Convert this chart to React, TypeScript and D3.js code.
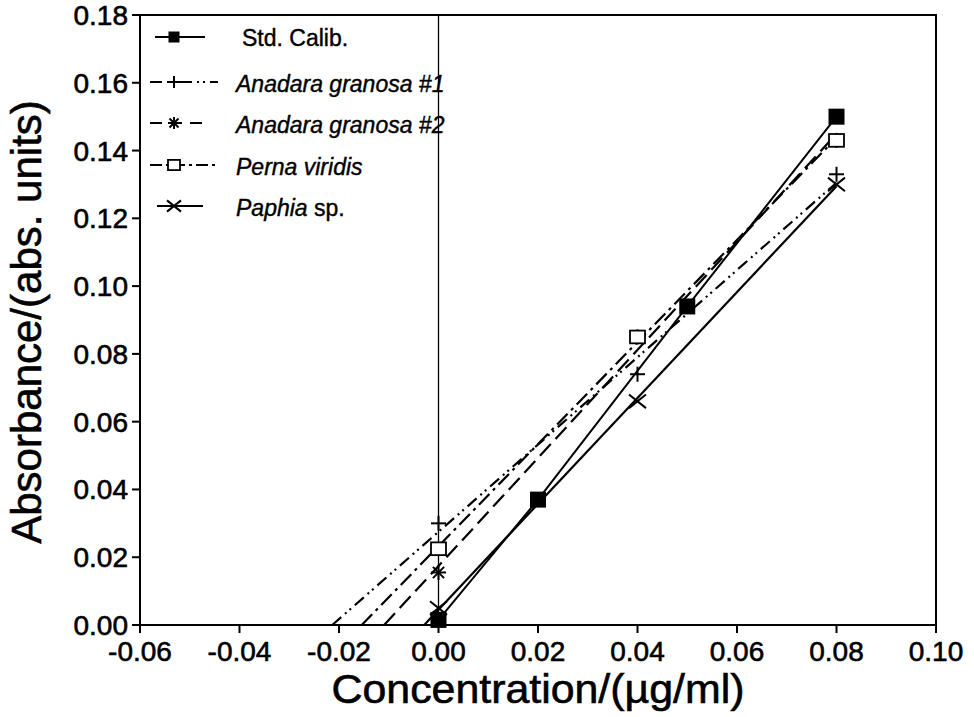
import React from "react";
import * as d3 from "d3";

// ---- data ----
const xTicks = [-0.06, -0.04, -0.02, 0.0, 0.02, 0.04, 0.06, 0.08, 0.1];
const yTicks = [0, 0.02, 0.04, 0.06, 0.08, 0.1, 0.12, 0.14, 0.16, 0.18];

const stdX = [0, 0.02, 0.05, 0.08];
const stdY = [0.0015, 0.037, 0.094, 0.15];

const sampleX = [0, 0.04, 0.08];
const anadara1Y = [0.03, 0.074, 0.133];
const anadara2Y = [0.0155, 0.085, 0.143];
const pernaY = [0.0225, 0.085, 0.143];
const paphiaY = [0.005, 0.066, 0.13];

const legendLabels = ["Std. Calib.", "Anadara granosa #1", "Anadara granosa #2", "Perna viridis", "Paphia"];

const W = 974;
const H = 717;
const FONT = "'Liberation Sans', Arial, Helvetica, sans-serif";

const x = d3.scaleLinear().domain([-0.06, 0.1]).range([140, 936]);
const y = d3.scaleLinear().domain([0, 0.18]).range([625, 15]);

function fit(xs: number[], ys: number[]) {
  const mx = d3.mean(xs)!;
  const my = d3.mean(ys)!;
  let sxy = 0, sxx = 0;
  xs.forEach((v, i) => {
    sxy += (v - mx) * (ys[i] - my);
    sxx += (v - mx) * (v - mx);
  });
  const slope = sxy / sxx;
  const icpt = my - slope * mx;
  return { slope, icpt, x0: -icpt / slope };
}

type MarkerKind = "fsquare" | "plus" | "star" | "osquare" | "cross";

function Marker({ kind, cx, cy, s = 16 }: { kind: MarkerKind; cx: number; cy: number; s?: number }) {
  const h = s / 2;
  const st = { stroke: "#000", strokeWidth: 2, fill: "none" } as const;
  if (kind === "fsquare") return <rect x={cx - h} y={cy - h} width={s} height={s} fill="#000" />;
  if (kind === "osquare")
    return <rect x={cx - h} y={cy - h * 0.85} width={s} height={s * 0.85} fill="#fff" stroke="#000" strokeWidth={1.8} />;
  if (kind === "plus")
    return (
      <g {...st}>
        <line x1={cx - h} y1={cy} x2={cx + h} y2={cy} />
        <line x1={cx} y1={cy - h} x2={cx} y2={cy + h} />
      </g>
    );
  if (kind === "star")
    return (
      <g {...st}>
        <line x1={cx - h} y1={cy} x2={cx + h} y2={cy} />
        <line x1={cx} y1={cy - h} x2={cx} y2={cy + h} />
        <line x1={cx - h * 0.75} y1={cy - h * 0.75} x2={cx + h * 0.75} y2={cy + h * 0.75} />
        <line x1={cx - h * 0.75} y1={cy + h * 0.75} x2={cx + h * 0.75} y2={cy - h * 0.75} />
      </g>
    );
  return (
    <g {...st}>
      <line x1={cx - h} y1={cy - h * 0.8} x2={cx + h} y2={cy + h * 0.8} />
      <line x1={cx - h} y1={cy + h * 0.8} x2={cx + h} y2={cy - h * 0.8} />
    </g>
  );
}

const series = [
  { ys: anadara1Y, dash: "12,5,2,4,2,5", marker: "plus" as MarkerKind },
  { ys: anadara2Y, dash: "16,7", marker: "star" as MarkerKind },
  { ys: pernaY, dash: "15,5,3,5", marker: "osquare" as MarkerKind },
  { ys: paphiaY, dash: "", marker: "cross" as MarkerKind },
];

const TXT = { fill: "#000", stroke: "#000", strokeWidth: 0.6 } as const;

export default function App() {
  const line = d3
    .line<[number, number]>()
    .x((d) => x(d[0]))
    .y((d) => y(d[1]));

  const stdPts: [number, number][] = stdX.map((v, i) => [v, stdY[i]]);

  const legendRows = [
    { y: 37, dash: "", marker: "fsquare" as MarkerKind, x1: 155, x2: 205, ms: 11 },
    { y: 82, dash: "12,5,2,4,2,5", marker: "plus" as MarkerKind, x1: 150, x2: 218, ms: 12 },
    { y: 123, dash: "12,8", marker: "star" as MarkerKind, x1: 150, x2: 205, ms: 12 },
    { y: 165, dash: "12,4,3,4", marker: "osquare" as MarkerKind, x1: 150, x2: 218, ms: 12 },
    { y: 206, dash: "", marker: "cross" as MarkerKind, x1: 157, x2: 203, ms: 14 },
  ];

  return (
    <svg width={W} height={H} style={{ position: "absolute", left: 0, top: 0, background: "#fff" }} fontFamily={FONT}>
      <rect x={0} y={0} width={W} height={H} fill="#fff" />
      {/* frame */}
      <rect x={x(-0.06)} y={y(0.18)} width={x(0.1) - x(-0.06)} height={y(0) - y(0.18)} fill="none" stroke="#000" strokeWidth={2} />
      {/* zero line */}
      <line x1={x(0)} x2={x(0)} y1={y(0.18)} y2={y(0)} stroke="#000" strokeWidth={1.3} />

      {/* y ticks */}
      {yTicks.map((t) => (
        <g key={"y" + t}>
          <line x1={x(-0.06) - 8} x2={x(-0.06)} y1={y(t)} y2={y(t)} stroke="#000" strokeWidth={2} />
          <text x={128} y={y(t) + 10} textAnchor="end" fontSize={28} {...TXT}>
            {t.toFixed(2)}
          </text>
        </g>
      ))}
      {/* x ticks */}
      {xTicks.map((t) => (
        <g key={"x" + t}>
          <line x1={x(t)} x2={x(t)} y1={y(0)} y2={y(0) + 8} stroke="#000" strokeWidth={2} />
          <text x={x(t)} y={661} textAnchor="middle" fontSize={28} {...TXT}>
            {t.toFixed(2)}
          </text>
        </g>
      ))}

      {/* axis titles */}
      <text x={538} y={703} textAnchor="middle" fontSize={41} {...TXT} textLength={413} lengthAdjust="spacingAndGlyphs">
        Concentration/(µg/ml)
      </text>
      <text transform="translate(41,322) rotate(-90)" textAnchor="middle" fontSize={42} {...TXT}>
        Absorbance/(abs. units)
      </text>

      {/* fitted lines of samples */}
      {series.map((s, i) => {
        const f = fit(sampleX, s.ys);
        const pts: [number, number][] = [
          [f.x0, 0],
          [0.08, f.icpt + f.slope * 0.08],
        ];
        return (
          <path key={"f" + i} d={line(pts)!} fill="none" stroke="#000" strokeWidth={2.2} strokeDasharray={s.dash || undefined} />
        );
      })}
      {/* standard calibration */}
      <path d={line(stdPts)!} fill="none" stroke="#000" strokeWidth={2} />

      {/* markers */}
      {series.map((s, i) =>
        sampleX.map((v, j) => <Marker key={`m${i}-${j}`} kind={s.marker} cx={x(v)} cy={y(s.ys[j])} s={s.marker === "cross" ? 17 : 15} />)
      )}
      {stdPts.map((p, i) => (
        <Marker key={"s" + i} kind="fsquare" cx={x(p[0])} cy={y(p[1])} s={16} />
      ))}

      {/* legend */}
      {legendRows.map((r, i) => (
        <g key={"l" + i}>
          <line x1={r.x1} x2={r.x2} y1={r.y} y2={r.y} stroke="#000" strokeWidth={2.2} strokeDasharray={r.dash || undefined} />
          <Marker kind={r.marker} cx={174} cy={r.y} s={r.ms} />
          {i === 0 ? (
            <text x={242} y={r.y + 9} fontSize={23} {...TXT} strokeWidth={0.4}>
              {legendLabels[i]}
            </text>
          ) : i === 4 ? (
            <text x={236} y={r.y + 10} fontSize={23} {...TXT} strokeWidth={0.4}>
              <tspan fontStyle="italic">{legendLabels[i]}</tspan>
              <tspan>{"  sp."}</tspan>
            </text>
          ) : (
            <text x={236} y={r.y + 10} fontSize={23} fontStyle="italic" {...TXT} strokeWidth={0.4}>
              {legendLabels[i]}
            </text>
          )}
        </g>
      ))}
    </svg>
  );
}
